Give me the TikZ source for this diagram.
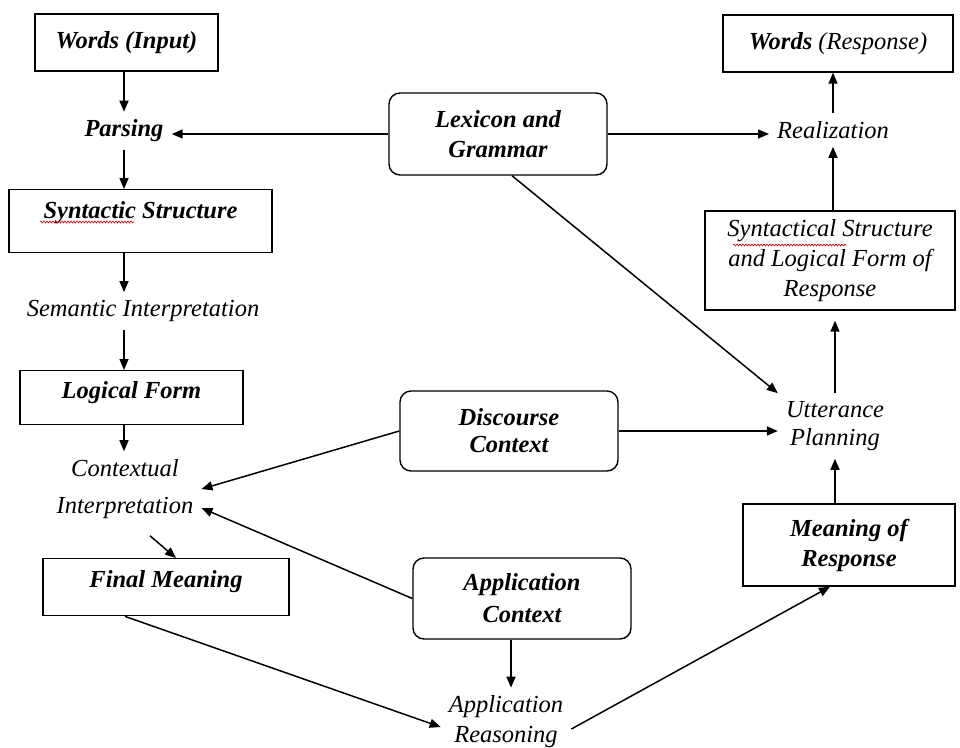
\documentclass[tikz,border=0pt]{standalone}
\usepackage{fontspec}
\setmainfont{Liberation Serif}
\usetikzlibrary{arrows.meta,decorations.pathmorphing}
\newcommand\dgsize{\fontsize{24.5}{30}\selectfont}
\tikzset{
  box/.style={draw, line width=1.4pt, inner sep=0pt, font=\dgsize\bfseries\itshape},
  rbox/.style={box, rounded corners=11pt, align=center},
  lbl/.style={inner sep=8pt, font=\dgsize\itshape, align=center},
  arr/.style={-{Triangle[length=11pt,width=9pt]}, line width=1.5pt},
  squiggle/.style={red!80!black, line width=0.6pt, decorate,
    decoration={snake, amplitude=1pt, segment length=3pt}},
}
\begin{document}
\begin{tikzpicture}[x=1pt,y=-1pt]
\useasboundingbox (0,0) rectangle (960,747);
% left column
\node[box, minimum width=183pt, minimum height=57pt] (wi) at (126.5,42.5) {Words (Input)};
\node[lbl, font=\dgsize\bfseries\itshape] (pa) at (124,131) {Parsing};
\node[box, minimum width=263pt, text height=29pt, text depth=34pt, anchor=north] (ss) at (140.5,189) {Syntactic Structure};
\node[lbl] (si) at (143,311) {Semantic Interpretation};
\node[box, minimum width=223pt, text height=28pt, text depth=26pt, anchor=north] (lf) at (131.5,370) {Logical Form};
\node[lbl] (ci) at (125,489) {Contextual\\[7pt]Interpretation};
\node[box, minimum width=246pt, text height=29pt, text depth=28pt, anchor=north] (fm) at (166,558) {Final Meaning};
% middle
\node[rbox, minimum width=218pt, minimum height=82pt] (lg) at (498,134) {Lexicon and\\Grammar};
\node[rbox, minimum width=218pt, minimum height=80pt] (dc) at (509,431) {Discourse\\[-3pt]Context};
\node[rbox, minimum width=218pt, minimum height=81pt] (ac) at (522,598.5) {Application\\[2pt]Context};
\node[lbl] (ar) at (506,722) {Application\\Reasoning};
% right column
\node[box, minimum width=230pt, minimum height=57pt] (wr) at (838,43.5) {Words \textmd{(Response)}};
\node[lbl] (re) at (833,130) {Realization};
\node[box, font=\dgsize\itshape, align=center, minimum width=250pt, minimum height=99pt] (sl) at (830,260.5) {Syntactical Structure\\and Logical Form of\\Response};
\node[lbl] (up) at (835,426) {Utterance\\[-2pt]Planning};
\node[box, align=center, minimum width=212pt, minimum height=82pt] (mr) at (849,545) {Meaning of\\Response};
% spell-check marks
\draw[squiggle] (40,222) -- (134,222);
\draw[squiggle] (733,245) -- (846,245);
% connectors
\draw[arr] (pa.north |- wi.south) -- (pa.north);
\draw[arr] (pa.south) -- (pa.south |- ss.north);
\draw[arr] (pa.south |- ss.south) -- (pa.south |- si.north);
\draw[arr] (pa.south |- si.south) -- (pa.south |- lf.north);
\draw[arr] (pa.south |- lf.south) -- (pa.south |- ci.north);
\draw[arr] ([xshift=25pt,yshift=-9pt]ci.south) -- ([xshift=10pt]fm.north);
\draw[arr] (lg.west) -- (lg.west -| pa.east);
\draw[arr] (lg.east) -- (lg.east -| re.west);
\draw[arr] ([xshift=14pt]lg.south) -- (up.north west);
\draw[arr] (sl.north -| re.south) -- (re.south);
\draw[arr] (re.north) -- (re.north |- wr.south);
\draw[arr, shorten >=10pt] (up.north) -- (up.north |- sl.south);
\draw[arr] (mr.north -| up.south) -- (up.south);
\draw[arr] (dc.east) -- (dc.east -| up.west);
\draw[arr] (dc.west) -- (ci.east);
\draw[arr] (ac.west) -- ([yshift=-19pt]ci.east);
\draw[arr] ([xshift=-11pt]ac.south) -- ([xshift=-11pt]ac.south |- ar.north);
\draw[arr] ([xshift=-41pt]fm.south) -- ([yshift=-5pt]ar.west);
\draw[arr] ([yshift=-7pt]ar.east) -- ([xshift=-19pt]mr.south);
\end{tikzpicture}
\end{document}
